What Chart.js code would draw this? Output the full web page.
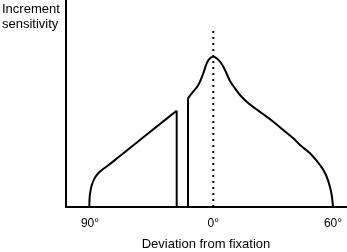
<!DOCTYPE html>
<html>
<head>
<meta charset="utf-8">
<script src="https://cdn.jsdelivr.net/npm/chart.js@4"></script>
<style>
  html, body { margin: 0; padding: 0; background: #fff; }
  #wrap { position: relative; width: 347px; height: 252px; }
  #ylab { position: absolute; left: 2px; top: 1px; font: 13px "Liberation Sans", Arial, sans-serif; line-height: 15px; color: #000; }
</style>
</head>
<body>
<div id="wrap">
  <canvas id="chart" width="347" height="252"></canvas>
  <div id="ylab">Increment<br>sensitivity</div>
</div>
<script>
// positions along the axis (arbitrary units, axis is not linear in degrees)
const tickPos = [24, 147.3, 267];
const tickLabels = ['90°', '0°', '60°'];

// left (nasal) part of the field
const leftX = [23.3, 23.5, 24.3, 26, 28.5, 32, 36.5, 42, 52.7, 81.7, 110.7];
const leftY = [0, 7, 15, 22.5, 28.5, 33.5, 37.5, 41.5, 50, 73.2, 96.3];

// blind spot edges
const dropX = [110.7, 110.7];
const dropY = [96.3, 0];
const riseX = [122, 122];
const riseY = [0, 108.7];

// right (temporal) part with the foveal peak
const rightX = [122, 125.7, 132.3, 137.3, 140.7, 144, 147.3, 154, 159, 164, 169, 174, 180.7, 189, 197.3, 207.3, 217.3, 227.3, 234, 244, 254, 260, 264, 266, 267];
const rightY = [108.7, 113.7, 122, 133.7, 143.7, 148.7, 150.3, 145.3, 137, 126, 118.7, 112, 105.3, 98.7, 92.7, 85.3, 77, 68.7, 62, 53.7, 42, 32, 20, 10, 0.3];

// fixation line
const fixX = [147.3, 147.3];
const fixY = [0, 180];

const pts = (xs, ys) => xs.map((x, i) => ({ x: x, y: ys[i] }));
const base = { borderColor: '#000', borderWidth: 2, pointRadius: 0, fill: false, showLine: true };

new Chart(document.getElementById('chart'), {
    type: 'scatter',
    data: {
        datasets: [
            { ...base, data: pts(leftX, leftY), cubicInterpolationMode: 'monotone' },
            { ...base, data: pts(dropX, dropY), tension: 0 },
            { ...base, data: pts(riseX, riseY), tension: 0 },
            { ...base, data: pts(rightX, rightY), cubicInterpolationMode: 'monotone' },
            { ...base, data: pts(fixX, fixY), tension: 0, borderWidth: 2, borderDash: [2, 4] }
        ]
    },
    options: {
        responsive: false,
        devicePixelRatio: 1,
        animation: false,
        layout: { padding: { left: 66, right: 1, top: 0, bottom: 0 } },
        plugins: { legend: { display: false }, tooltip: { enabled: false } },
        scales: {
            x: {
                type: 'linear', min: 0, max: 280,
                grid: { display: false, drawTicks: false },
                border: { display: true, color: '#000', width: 2 },
                afterBuildTicks: axis => { axis.ticks = tickPos.map(v => ({ value: v })); },
                // fixed band under the plot, no extra label padding at the ends
                afterFit: axis => { axis.height = 45; axis.paddingLeft = 0; axis.paddingRight = 0; },
                ticks: {
                    autoSkip: false, maxRotation: 0, padding: 9, color: '#000',
                    font: { family: 'Liberation Sans', size: 12 },
                    callback: (v, i) => tickLabels[i]
                },
                title: {
                    display: true, text: 'Deviation from fixation', color: '#000',
                    font: { family: 'Liberation Sans', size: 13 },
                    padding: { top: 4, bottom: 0 }
                }
            },
            y: {
                min: 0, max: 207,
                grid: { display: false, drawTicks: false },
                border: { display: true, color: '#000', width: 2 },
                ticks: { display: false },
                afterFit: axis => { axis.width = 0; }
            }
        }
    }
});
</script>
</body>
</html>
